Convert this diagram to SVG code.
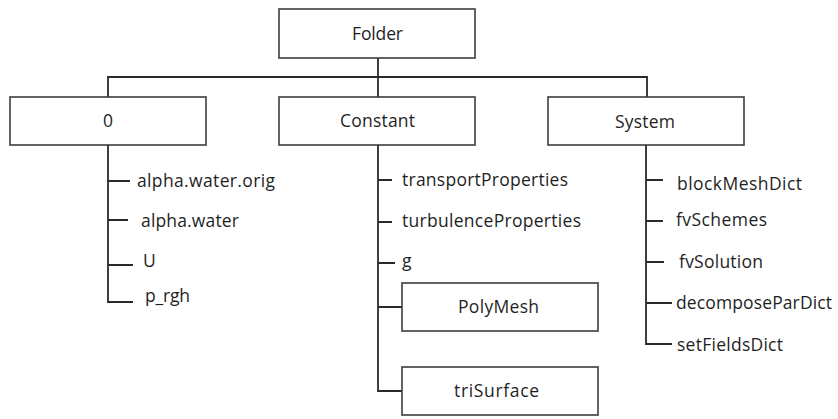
<svg xmlns="http://www.w3.org/2000/svg" width="838" height="419" viewBox="0 0 838 419">
<style>
.box{fill:#fff;stroke:#3c3c3c;stroke-width:1.6}
.ln{fill:none;stroke:#2a2a2a;stroke-width:1.8}
.t{font-family:"Open Sans","Liberation Sans",sans-serif;font-size:17.5px;fill:#1f1f1f}
</style>
<rect width="838" height="419" fill="#fff"/>
<g id="connectors">
<path class="ln" d="M378 58V97M108 97V77H647V97"/>
<path class="ln" d="M108 145V302H133M108 181H130M108 220H128M108 265H133"/>
<path class="ln" d="M378 145V391H402M378 180H392M378 222H392M378 263H395M378 307H402"/>
<path class="ln" d="M646 145V344H672M646 180H663M646 221H663M646 262H664M646 303H672"/>
</g>
<g id="folder"><rect class="box" x="279" y="9" width="196" height="49"/><text class="t" x="352" y="40" textLength="51">Folder</text></g>
<g id="zero"><rect class="box" x="10" y="97" width="196" height="48"/><text class="t" x="108" y="127" text-anchor="middle">0</text></g>
<g id="constant"><rect class="box" x="279" y="97" width="196" height="48"/><text class="t" x="340" y="127" textLength="75">Constant</text></g>
<g id="system"><rect class="box" x="548" y="97" width="196" height="48"/><text class="t" x="615" y="128" textLength="60">System</text></g>
<g id="alpha-water-orig"><text class="t" x="137" y="187" textLength="138">alpha.water.orig</text></g>
<g id="alpha-water"><text class="t" x="141" y="227" textLength="98">alpha.water</text></g>
<g id="U"><text class="t" x="143" y="267">U</text></g>
<g id="p_rgh"><text class="t" x="145" y="302" textLength="45">p_rgh</text></g>
<g id="transportProperties"><text class="t" x="402" y="186" textLength="166">transportProperties</text></g>
<g id="turbulenceProperties"><text class="t" x="402" y="227" textLength="179">turbulenceProperties</text></g>
<g id="g"><text class="t" x="402" y="267">g</text></g>
<g id="polymesh"><rect class="box" x="402" y="283" width="196" height="48"/><text class="t" x="458" y="313" textLength="81">PolyMesh</text></g>
<g id="trisurface"><rect class="box" x="402" y="367" width="196" height="48"/><text class="t" x="454" y="397" textLength="85">triSurface</text></g>
<g id="blockMeshDict"><text class="t" x="677" y="190" textLength="125">blockMeshDict</text></g>
<g id="fvSchemes"><text class="t" x="676" y="226" textLength="91">fvSchemes</text></g>
<g id="fvSolution"><text class="t" x="679" y="268" textLength="84">fvSolution</text></g>
<g id="decomposeParDict"><text class="t" x="676" y="309" textLength="156">decomposeParDict</text></g>
<g id="setFieldsDict"><text class="t" x="677" y="351" textLength="106">setFieldsDict</text></g>
</svg>
